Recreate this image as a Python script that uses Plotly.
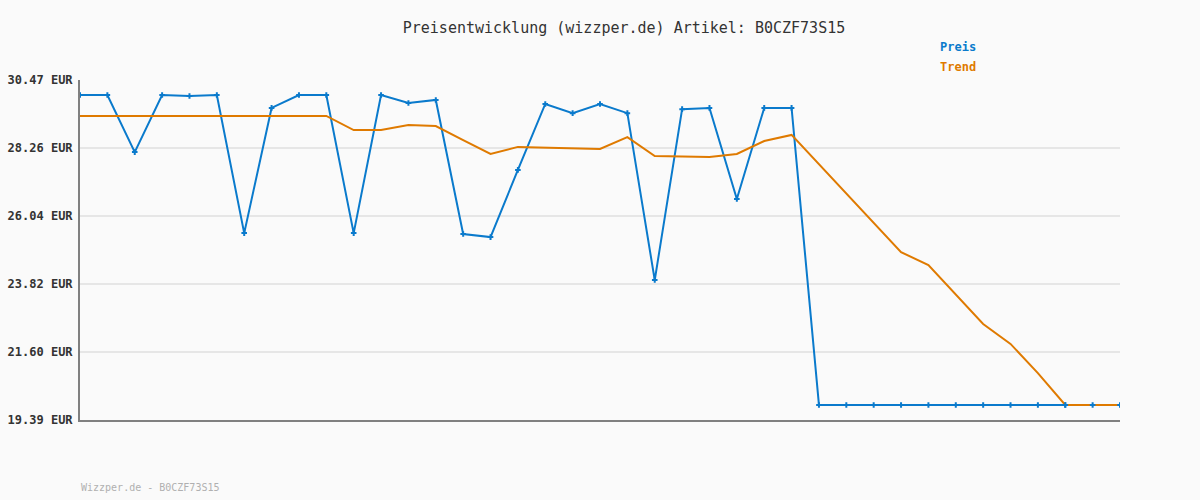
import plotly.graph_objects as go

x_idx = list(range(39))
preis = [29.98, 29.98, 28.12, 29.98, 29.95, 29.98, 25.48, 29.56, 29.98, 29.98,
         25.48, 29.98, 29.72, 29.82, 25.45, 25.35, 27.54, 29.69, 29.39, 29.69,
         29.39, 23.95, 29.52, 29.56, 26.59, 29.56, 29.56, 19.88, 19.88, 19.88,
         19.88, 19.88, 19.88, 19.88, 19.88, 19.88, 19.88, 19.88, 19.88]
trend = [29.30, 29.30, 29.30, 29.30, 29.30, 29.30, 29.30, 29.30, 29.30, 29.30,
         28.84, 28.84, 29.00, 28.97, 28.51, 28.06, 28.29, 28.27, 28.25, 28.22,
         28.61, 27.99, 27.98, 27.96, 28.06, 28.48, 28.68, 27.73, 26.79, 25.81,
         24.86, 24.44, 23.48, 22.52, 21.87, 20.92, 19.88, 19.88, 19.88]
tick_vals = [30.47, 28.26, 26.04, 23.82, 21.60, 19.39]
tick_text = ["30.47 EUR", "28.26 EUR", "26.04 EUR", "23.82 EUR", "21.60 EUR", "19.39 EUR"]
title_text = "Preisentwicklung (wizzper.de) Artikel: B0CZF73S15"
footer_text = "Wizzper.de - B0CZF73S15"

BLUE = "#0a7acc"
ORANGE = "#df7a00"
MONO = "DejaVu Sans Mono"

n_line = 37  # blue line drawn up to this index

fig = go.Figure()
fig.add_trace(go.Scatter(
    x=x_idx[:n_line], y=preis[:n_line], mode="lines+markers",
    line=dict(color=BLUE, width=2),
    marker=dict(symbol="cross-thin", size=4, line=dict(color=BLUE, width=2)),
    hoverinfo="y"))
fig.add_trace(go.Scatter(
    x=x_idx, y=trend, mode="lines",
    line=dict(color=ORANGE, width=2), hoverinfo="y"))
fig.add_trace(go.Scatter(
    x=x_idx[n_line - 1:], y=preis[n_line - 1:], mode="markers",
    marker=dict(symbol="cross-thin", size=4, line=dict(color=BLUE, width=2)),
    hoverinfo="y"))

fig.update_layout(
    width=1200, height=500,
    margin=dict(l=80, r=80, t=80, b=80),
    paper_bgcolor="#fafafa", plot_bgcolor="#fafafa",
    showlegend=False,
    title=dict(text=title_text, x=0.52, xanchor="center", y=0.944, yanchor="middle",
               font=dict(family=MONO, size=15, color="#333333")),
    xaxis=dict(range=[0, 38], showgrid=False, zeroline=False, showticklabels=False,
               showline=True, linecolor="#808080", linewidth=2, ticks="",
               automargin=False),
    yaxis=dict(range=[19.39, 30.47], tickvals=tick_vals, ticktext=tick_text,
               showgrid=True, gridcolor="#e6e6e6", gridwidth=2, zeroline=False,
               showline=True, linecolor="#808080", linewidth=2, ticks="",
               ticklabelstandoff=3, automargin=False,
               tickfont=dict(family=MONO, size=12, color="#333333", weight="bold")),
    annotations=[
        dict(text="<b>Preis</b>", x=938, y=47, xanchor="left", showarrow=False,
             font=dict(family=MONO, size=12, color=BLUE)),
        dict(text="<b>Trend</b>", x=938, y=67, xanchor="left", showarrow=False,
             font=dict(family=MONO, size=12, color=ORANGE)),
        dict(text=footer_text, x=79, y=487, xanchor="left", showarrow=False,
             font=dict(family=MONO, size=10, color="#b0b0b0")),
    ],
)
# convert pixel positions of annotations to paper coordinates
pw, ph = 1200 - 160, 500 - 160
for a in fig.layout.annotations:
    a.x = (a.x - 80) / pw
    a.y = (420 - a.y) / ph
    a.xref = "paper"
    a.yref = "paper"
    a.yanchor = "middle"

fig.write_html("out.html", config={"displayModeBar": False},
               post_script="document.body.style.margin='0';document.body.style.overflow='hidden';")
